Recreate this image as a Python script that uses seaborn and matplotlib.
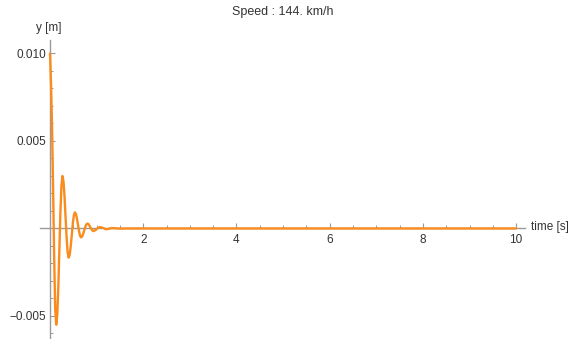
import matplotlib
matplotlib.use("Agg")
import matplotlib.pyplot as plt
import seaborn as sns
import pandas as pd
from matplotlib.ticker import MultipleLocator

# --- data ---
time_s = [0.0, 0.0222, 0.0444, 0.0667, 0.0889, 0.1111, 0.1333,
          0.1556, 0.1778, 0.2000, 0.2222, 0.2444, 0.2667,
          0.2889, 0.3111, 0.3333, 0.3556, 0.3778, 0.4000,
          0.4222, 0.4444, 0.4667, 0.4889, 0.5111, 0.5333,
          0.5556, 0.5778, 0.6000, 0.6222, 0.6444, 0.6667,
          0.6889, 0.7111, 0.7333, 0.7556, 0.7778, 0.8000,
          0.8222, 0.8444, 0.8667, 0.8889, 0.9111, 0.9333,
          0.9778, 1.0222, 1.0667, 1.1111, 1.1556, 1.2000,
          1.2444, 1.2889, 1.3333, 1.4000, 1.5000, 1.6000,
          2.0, 4.0, 6.0, 8.0, 10.0]
y_m = [0.0100, 0.0082, 0.0057, 0.0022, -0.0016, -0.0046, -0.0055,
       -0.00493, -0.00338, -0.00125, 0.00088, 0.00243, 0.0030,
       0.00269, 0.00183, 0.00066, -0.00050, -0.00136, -0.00167,
       -0.00150, -0.00102, -0.00038, 0.00027, 0.00075, 0.00092,
       0.00083, 0.00056, 0.00020, -0.00015, -0.00042, -0.00051,
       -0.00046, -0.00031, -0.00012, 0.00008, 0.00023, 0.00028,
       0.00025, 0.00017, 0.00006, -0.00004, -0.00012, -0.00015,
       -0.00009, 0.00002, 0.00008, 0.00005, 0.00001, -0.000045,
       -0.00003, 0.0, 0.000025, 0.00001, -0.00001, 0.0,
       0.0, 0.0, 0.0, 0.0, 0.0]

x_major = [2, 4, 6, 8, 10]
x_labels = ["2", "4", "6", "8", "10"]
y_major = [-0.005, 0.005, 0.010]
y_labels = ["\u22120.005", "0.005", "0.010"]
title_text = "Speed : 144. km/h"

sns.set_theme(style="white")
plt.rcParams["font.family"] = ["Liberation Sans", "DejaVu Sans"]

fig = plt.figure(figsize=(5.70, 3.39), dpi=100)
ax = fig.add_axes([40 / 570, 1 / 339, 485 / 570, 298 / 339])
ax.set_facecolor("white")

df = pd.DataFrame({"t": time_s, "y": y_m})
sns.lineplot(data=df, x="t", y="y", ax=ax, color="#F98C1C", linewidth=1.7,
             zorder=3)

ax.set_xlim(-0.215, 10.19)
ax.set_ylim(-0.00626, 0.01077)

axis_col = "#9a9a9a"
for s in ["top", "right"]:
    ax.spines[s].set_visible(False)
for s in ["left", "bottom"]:
    ax.spines[s].set_position(("data", 0))
    ax.spines[s].set_color(axis_col)
    ax.spines[s].set_linewidth(1.0)

ax.set_xticks(x_major)
ax.set_xticklabels(x_labels)
ax.set_yticks(y_major)
ax.set_yticklabels(y_labels)
ax.xaxis.set_minor_locator(MultipleLocator(0.5))
ax.yaxis.set_minor_locator(MultipleLocator(0.001))

ax.tick_params(axis="both", which="both", bottom=True, left=True,
               top=False, right=False)
ax.tick_params(axis="both", which="major", direction="in", length=3.5,
               width=0.8, color=axis_col, labelsize=8.5, labelcolor="#333333",
               pad=3)
ax.tick_params(axis="both", which="minor", direction="in", length=2,
               width=0.7, color=axis_col)
ax.tick_params(axis="x", which="major", pad=4)

ax.set_xlabel("")
ax.set_ylabel("")
ax.grid(False)

fig.text(48.5 / 570, 1 - 28 / 339, "y [m]", ha="center", va="center",
         fontsize=8.5, color="#333333")
fig.text(531 / 570, 1 - 227 / 339, "time [s]", ha="left", va="center",
         fontsize=8.5, color="#333333")
fig.text(282.5 / 570, 1 - 12 / 339, title_text, ha="center", va="center",
         fontsize=9, color="#333333")

fig.savefig("out.png", dpi=100)
